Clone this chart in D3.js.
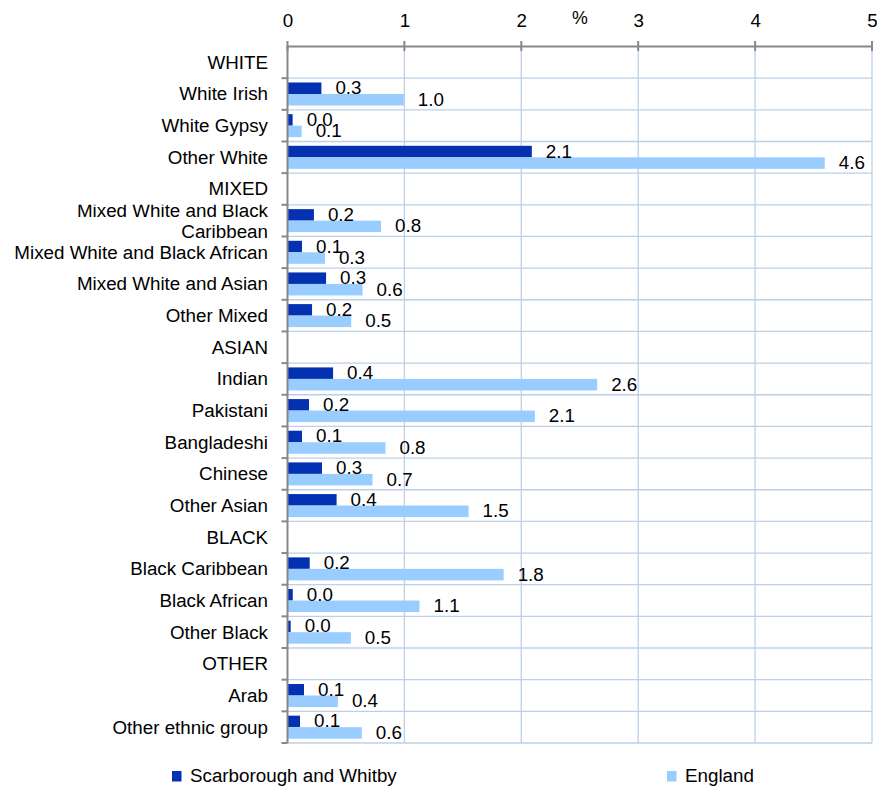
<!DOCTYPE html>
<html>
<head>
<meta charset="utf-8">
<script src="https://cdn.jsdelivr.net/npm/d3@7"></script>
<style>
  html, body { margin: 0; padding: 0; background: #fff; }
  svg { display: block; font-family: "Liberation Sans", Arial, sans-serif; }
</style>
</head>
<body>
<svg id="chart" width="877" height="786"></svg>
<script>
// ---------- data ----------
const categories = [
  "WHITE", "White Irish", "White Gypsy", "Other White",
  "MIXED", "Mixed White and Black Caribbean", "Mixed White and Black African",
  "Mixed White and Asian", "Other Mixed",
  "ASIAN", "Indian", "Pakistani", "Bangladeshi", "Chinese", "Other Asian",
  "BLACK", "Black Caribbean", "Black African", "Other Black",
  "OTHER", "Arab", "Other ethnic group"
];
const scarborough = [
  null, 0.29, 0.044, 2.09,
  null, 0.226, 0.124, 0.33, 0.21,
  null, 0.39, 0.184, 0.124, 0.295, 0.42,
  null, 0.19, 0.045, 0.027,
  null, 0.141, 0.107
];
const england = [
  null, 0.995, 0.121, 4.596,
  null, 0.80, 0.32, 0.642, 0.545,
  null, 2.649, 2.116, 0.838, 0.727, 1.549,
  null, 1.849, 1.129, 0.542,
  null, 0.431, 0.636
];
const xTicks = [0, 1, 2, 3, 4, 5];
const seriesNames = ["Scarborough and Whitby", "England"];
const axisTitle = "%";

// ---------- styles ----------
const darkBlue = "#0331B1";
const lightBlue = "#99CCFF";
const gridColor = "#BCD0E8";
const axisColor = "#888888";
const fontSize = 18.8;
const textColor = "#000";

const svg = d3.select("#chart");
const x = d3.scaleLinear().domain([0, 5]).range([287.5, 872]);
const y = d3.scaleBand().domain(d3.range(categories.length)).range([46.5, 743]).padding(0);
const bw = y.bandwidth();
const barH = 11.5;

// vertical gridlines
svg.append("g").selectAll("line").data(xTicks.filter(d => d > 0)).join("line")
  .attr("x1", d => x(d)).attr("x2", d => x(d))
  .attr("y1", y.range()[0]).attr("y2", y.range()[1])
  .attr("stroke", gridColor).attr("stroke-width", 1.3);

// horizontal gridlines at band boundaries
const bounds = d3.range(categories.length + 1).map(i => y.range()[0] + i * bw);
svg.append("g").selectAll("line").data(bounds.slice(1)).join("line")
  .attr("x1", x(0)).attr("x2", x(5))
  .attr("y1", d => d).attr("y2", d => d)
  .attr("stroke", gridColor).attr("stroke-width", 1.3);

// bars
const fmt = d3.format(".1f");
const idx = d3.range(categories.length);
svg.append("g").selectAll("rect").data(idx.filter(i => scarborough[i] != null)).join("rect")
  .attr("x", x(0)).attr("width", i => x(scarborough[i]) - x(0))
  .attr("y", i => y(i) + bw / 2 - barH).attr("height", barH)
  .attr("fill", darkBlue);
svg.append("g").selectAll("rect").data(idx.filter(i => england[i] != null)).join("rect")
  .attr("x", x(0)).attr("width", i => x(england[i]) - x(0))
  .attr("y", i => y(i) + bw / 2).attr("height", barH)
  .attr("fill", lightBlue);

// value labels
const lblG = svg.append("g").attr("font-size", fontSize).attr("fill", textColor);
lblG.selectAll("text.s").data(idx.filter(i => scarborough[i] != null)).join("text")
  .attr("class", "s")
  .attr("x", i => x(scarborough[i]) + 14)
  .attr("y", i => y(i) + bw / 2 - barH / 2 + 6)
  .text(i => fmt(scarborough[i]));
lblG.selectAll("text.e").data(idx.filter(i => england[i] != null)).join("text")
  .attr("class", "e")
  .attr("x", i => x(england[i]) + 14)
  .attr("y", i => y(i) + bw / 2 + barH / 2 + 6)
  .text(i => fmt(england[i]));

// left axis
const yAxis = svg.append("g");
yAxis.append("line").attr("x1", x(0)).attr("x2", x(0))
  .attr("y1", y.range()[0]).attr("y2", y.range()[1])
  .attr("stroke", axisColor).attr("stroke-width", 2);
yAxis.selectAll("line.tk").data(bounds.slice(1)).join("line").attr("class", "tk")
  .attr("x1", x(0) - 6).attr("x2", x(0))
  .attr("y1", d => d).attr("y2", d => d)
  .attr("stroke", axisColor).attr("stroke-width", 2);

// category labels
const defs = svg.append("defs");
const catG = svg.append("g").attr("font-size", fontSize).attr("fill", textColor);
categories.forEach((c, i) => {
  const cid = "clip" + i;
  defs.append("clipPath").attr("id", cid).append("rect")
    .attr("x", 0).attr("y", y(i)).attr("width", x(0)).attr("height", bw + 8);
  const t = catG.append("text").attr("text-anchor", "end").attr("x", 268)
    .attr("clip-path", `url(#${cid})`);
  const cy = y(i) + bw / 2 + 6.5;
  t.text(c);
  if (t.node().getComputedTextLength() > 266) {
    const words = c.split(" ");
    const lines = [];
    let cur = [];
    t.text(null);
    const probe = t.append("tspan");
    words.forEach(w => {
      const test = cur.concat([w]).join(" ");
      probe.text(test);
      if (probe.node().getComputedTextLength() > 266 && cur.length) {
        lines.push(cur.join(" "));
        cur = [w];
      } else cur.push(w);
    });
    lines.push(cur.join(" "));
    probe.remove();
    const lh = 21;
    lines.forEach((ln, k) => {
      t.append("tspan").attr("x", 268)
        .attr("y", cy + (k - (lines.length - 1) / 2) * lh)
        .text(ln);
    });
  } else {
    t.attr("y", cy);
  }
});

// top axis
const xAxisG = svg.append("g").attr("transform", `translate(0,${y.range()[0]})`)
  .call(d3.axisTop(x).tickValues(xTicks).tickSize(0).tickFormat(d3.format("d")));
xAxisG.select(".domain").remove();
xAxisG.selectAll(".tick text").attr("font-size", fontSize)
  .attr("font-family", "'Liberation Sans', Arial, sans-serif")
  .attr("fill", textColor).attr("y", -19.5).attr("dy", 0);
xAxisG.append("line").attr("x1", x(0) - 1).attr("x2", x(5))
  .attr("y1", 0).attr("y2", 0).attr("stroke", axisColor).attr("stroke-width", 2);
xAxisG.selectAll("line.tk").data(xTicks).join("line").attr("class", "tk")
  .attr("x1", d => x(d)).attr("x2", d => x(d))
  .attr("y1", -5.5).attr("y2", 4.5)
  .attr("stroke", axisColor).attr("stroke-width", 2);

svg.append("text").attr("x", 580).attr("y", 24).attr("text-anchor", "middle")
  .attr("font-size", fontSize - 1).attr("fill", textColor).text(axisTitle);

// legend
const legendX = [172, 667];
const legendColors = [darkBlue, lightBlue];
const lg = svg.append("g").selectAll("g").data(seriesNames).join("g")
  .attr("transform", (d, i) => `translate(${legendX[i]},0)`);
lg.append("rect").attr("x", 0).attr("y", 771).attr("width", 9.5).attr("height", 10.5)
  .attr("fill", (d, i) => legendColors[i]);
lg.append("text").attr("x", 18).attr("y", 782).attr("font-size", fontSize)
  .attr("fill", textColor).text(d => d);
</script>
</body>
</html>
